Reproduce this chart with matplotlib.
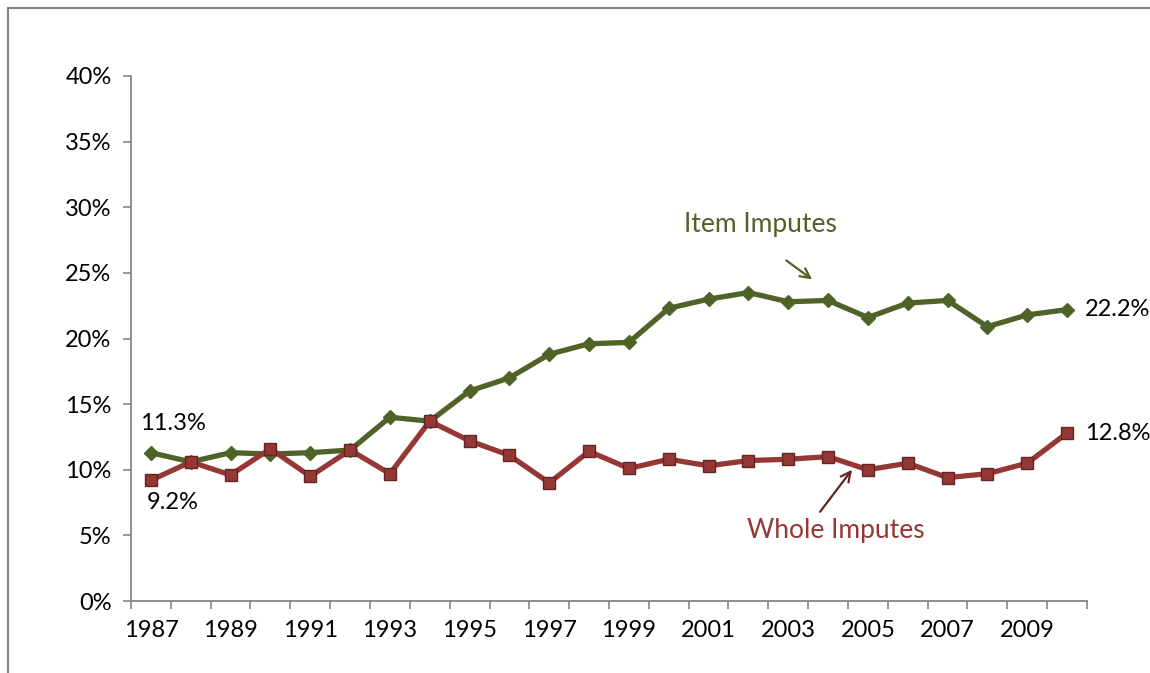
import numpy as np
import matplotlib
matplotlib.use('Agg')
import matplotlib.pyplot as plt
from matplotlib.lines import Line2D

plt.rcParams['font.family'] = ['Lato', 'DejaVu Sans']

years = list(range(1987, 2011))
item_imputes = [11.3, 10.6, 11.3, 11.2, 11.3, 11.5, 14.0, 13.7, 16.0, 17.0, 18.8, 19.6,
                19.7, 22.3, 23.0, 23.5, 22.8, 22.9, 21.6, 22.7, 22.9, 20.9, 21.8, 22.2]
whole_imputes = [9.2, 10.6, 9.6, 11.6, 9.5, 11.5, 9.7, 13.7, 12.2, 11.1, 9.0, 11.4,
                 10.1, 10.8, 10.3, 10.7, 10.8, 11.0, 10.0, 10.5, 9.4, 9.7, 10.5, 12.8]
yticks = [0, 5, 10, 15, 20, 25, 30, 35, 40]

green = '#4F6228'
red = '#953735'
red_edge = '#632523'
axis_gray = '#868686'
fs = 17

W, H = 1150, 673
fig = plt.figure(figsize=(W/100, H/100), dpi=100)
ax = fig.add_axes([131/W, 1-601/H, (1087-131)/W, (601-76)/H])

x = np.arange(len(years))
ax.plot(x, item_imputes, color=green, lw=3.8, marker='D', ms=7,
        mfc=green, mec=green, zorder=3)
ax.plot(x, whole_imputes, color=red, lw=3.8, marker='s', ms=8.5,
        mfc=red, mec=red_edge, mew=1, zorder=4)

ax.set_xlim(-0.5, len(years)-0.5)
ax.set_ylim(0, 40)
ax.set_yticks(yticks)
ax.set_yticklabels([f'{v}%' for v in yticks])

# ticks at category boundaries, labels every other year
ax.set_xticks(np.arange(-0.5, len(years)))
ax.set_xticklabels([])
ax.set_xticks(x[::2], minor=True)
ax.set_xticklabels([str(y) for y in years[::2]], minor=True)
ax.tick_params(axis='x', which='major', length=6, width=1.2, color=axis_gray, direction='out')
ax.tick_params(axis='x', which='minor', length=0, pad=14, labelsize=fs)
ax.tick_params(axis='y', length=6, width=1.2, color=axis_gray, direction='out', pad=8, labelsize=fs)

for s in ['top', 'right']:
    ax.spines[s].set_visible(False)
for s in ['left', 'bottom']:
    ax.spines[s].set_color(axis_gray)
    ax.spines[s].set_linewidth(1.3)

# data labels
ax.text(0.55, 13.5, '11.3%', ha='center', va='center', fontsize=fs)
ax.text(0.55, 7.5, '9.2%', ha='center', va='center', fontsize=fs)
ax.text(23.45, 22.2, '22.2%', ha='left', va='center', fontsize=fs, clip_on=False)
ax.text(23.45, 12.8, '12.8%', ha='left', va='center', fontsize=fs, clip_on=False)

# annotations
ax.text(15.3, 28.65, 'Item Imputes', ha='center', va='center', fontsize=19, color=green)
ax.annotate('', xy=(16.6, 24.5), xytext=(15.95, 25.95),
            arrowprops=dict(arrowstyle='->,head_length=0.7,head_width=0.35', color=green,
                            lw=1.6, shrinkA=0, shrinkB=0))
ax.text(17.2, 5.35, 'Whole Imputes', ha='center', va='center', fontsize=19, color=red)
ax.annotate('', xy=(17.6, 10.0), xytext=(16.8, 6.8),
            arrowprops=dict(arrowstyle='->,head_length=0.7,head_width=0.35', color=red_edge,
                            lw=1.6, shrinkA=0, shrinkB=0))

# outer chart frame
fig.add_artist(Line2D([8/W, 8/W], [0, 1-8/H], color=axis_gray, lw=1.5))
fig.add_artist(Line2D([8/W, 1], [1-8/H, 1-8/H], color=axis_gray, lw=1.5))

fig.savefig('out.png', dpi=100)
